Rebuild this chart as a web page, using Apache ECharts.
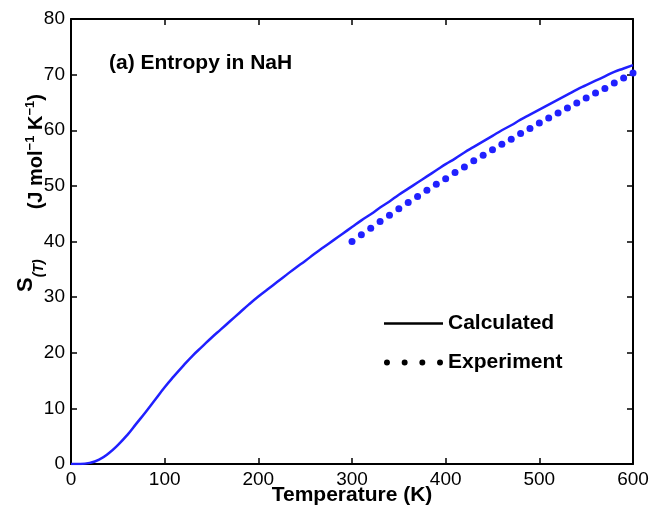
<!DOCTYPE html>
<html>
<head>
<meta charset="utf-8">
<script src="https://cdn.jsdelivr.net/npm/echarts@6/dist/echarts.min.js"></script>
<style>
  html, body { margin: 0; padding: 0; background: #fff; }
  #chart { width: 652px; height: 508px; }
</style>
</head>
<body>
<div id="chart"></div>
<script>
// calculated entropy (K, J/mol/K)
const tempCalc = [0, 10, 20, 30, 40, 50, 60, 70, 80, 90, 100, 110, 120, 130, 140, 150, 160, 170, 180, 190,
  200, 210, 220, 230, 240, 250, 260, 270, 280, 290, 300, 310, 320, 330, 340, 350, 360, 370, 380, 390,
  400, 410, 420, 430, 440, 450, 460, 470, 480, 490, 500, 510, 520, 530, 540, 550, 560, 570, 580, 590, 600];
const entropyCalc = [0.0, 0.0, 0.2, 0.8, 1.9, 3.4, 5.2, 7.3, 9.4, 11.6, 13.8, 15.8, 17.7, 19.5, 21.1, 22.7, 24.2, 25.7, 27.2, 28.7,
  30.1, 31.4, 32.7, 34.0, 35.3, 36.5, 37.8, 39.0, 40.2, 41.4, 42.6, 43.8, 44.9, 46.1, 47.2, 48.4, 49.5, 50.6, 51.7, 52.8,
  53.9, 54.9, 56.0, 57.0, 58.0, 59.0, 60.0, 60.9, 61.9, 62.8, 63.7, 64.6, 65.5, 66.4, 67.3, 68.1, 68.9, 69.7, 70.5, 71.1, 71.7];

// experiment
const tempExp = [300, 310, 320, 330, 340, 350, 360, 370, 380, 390, 400, 410, 420, 430, 440, 450,
  460, 470, 480, 490, 500, 510, 520, 530, 540, 550, 560, 570, 580, 590, 600];
const entropyExp = [40.0, 41.2, 42.4, 43.6, 44.7, 45.9, 47.0, 48.1, 49.2, 50.3, 51.3, 52.4, 53.4, 54.5, 55.5, 56.5,
  57.5, 58.4, 59.4, 60.3, 61.3, 62.2, 63.1, 64.0, 64.9, 65.8, 66.7, 67.5, 68.5, 69.4, 70.3];

const xTicks = [0, 100, 200, 300, 400, 500, 600];
const yTicks = [0, 10, 20, 30, 40, 50, 60, 70, 80];

const FONT = "'Liberation Sans', Arial, Helvetica, sans-serif";
const BLUE = "#2020ff";

const chart = echarts.init(document.getElementById("chart"));

const axisBase = {
  axisLine: { show: true, onZero: false, lineStyle: { color: "#000", width: 2 } },
  axisTick: { show: true, inside: true, length: 6, lineStyle: { color: "#000", width: 1.5 } },
  splitLine: { show: false },
};

const dot = (x) => "M" + x + ",3.2a3.2,3.2 0 1,0 6.4,0a3.2,3.2 0 1,0 -6.4,0";

const option = {
  animation: false,
  backgroundColor: "#fff",
  title: {
    text: "(a) Entropy in NaH",
    left: 104,
    top: 48,
    textStyle: { fontFamily: FONT, fontSize: 21, fontWeight: "bold", color: "#000" },
  },
  legend: {
    orient: "vertical",
    left: 379,
    top: 308,
    itemWidth: 59,
    itemHeight: 7,
    itemGap: 18,
    itemStyle: { color: "#000" },
    textStyle: { fontFamily: FONT, fontSize: 21, fontWeight: "bold", color: "#000" },
    data: [
      { name: "Calculated", icon: "path://M0,0H60V2.4H0Z", itemStyle: { color: "#000" } },
      {
        name: "Experiment",
        icon: "path://" + dot(0) + dot(19) + dot(38) + dot(57),
        itemStyle: { color: "#000" },
      },
    ],
  },
  grid: { left: 71, right: 19, top: 19, bottom: 44, containLabel: false, outerBoundsMode: "none" },
  xAxis: [
    {
      ...axisBase,
      type: "value",
      min: xTicks[0],
      max: xTicks[xTicks.length - 1],
      interval: 100,
      name: "Temperature (K)",
      nameLocation: "middle",
      nameGap: 21,
      nameMoveOverlap: false,
      nameTextStyle: { fontFamily: FONT, fontSize: 21, fontWeight: "bold", color: "#000" },
      axisLabel: { color: "#000", fontFamily: FONT, fontSize: 19, margin: 6 },
    },
    {
      ...axisBase,
      type: "value",
      position: "top",
      min: xTicks[0],
      max: xTicks[xTicks.length - 1],
      interval: 100,
      axisLabel: { show: false },
    },
  ],
  yAxis: [
    {
      ...axisBase,
      type: "value",
      min: yTicks[0],
      max: yTicks[yTicks.length - 1],
      interval: 10,
      name: "{s|S}{sub|(T)}{gap|}{t|(J mol}{sup|\u22121}{t| K}{sup|\u22121}{t|)}",
      nameLocation: "middle",
      nameGap: 25,
      nameMoveOverlap: false,
      nameTextStyle: {
        fontFamily: FONT,
        fontWeight: "bold",
        color: "#000",
        padding: [0, 0, 0, 97],
        rich: {
          s: { fontFamily: FONT, fontSize: 22, fontWeight: "bold", color: "#000", lineHeight: 40, verticalAlign: "top", padding: [9, 0, 0, 0] },
          sub: { fontFamily: FONT, fontSize: 14, fontWeight: "bold", fontStyle: "italic", color: "#000", lineHeight: 12, verticalAlign: "bottom" },
          gap: { width: 50 },
          t: { fontFamily: FONT, fontSize: 20, fontWeight: "bold", color: "#000", lineHeight: 18, verticalAlign: "bottom" },
          sup: { fontFamily: FONT, fontSize: 13, fontWeight: "bold", color: "#000", lineHeight: 14, verticalAlign: "bottom", padding: [0, 0, 9, 0] },
        },
      },
      axisLabel: { color: "#000", fontFamily: FONT, fontSize: 19, margin: 6 },
    },
    {
      ...axisBase,
      type: "value",
      position: "right",
      min: yTicks[0],
      max: yTicks[yTicks.length - 1],
      interval: 10,
      axisLabel: { show: false },
    },
  ],
  series: [
    {
      name: "Calculated",
      type: "line",
      data: tempCalc.map((t, i) => [t, entropyCalc[i]]),
      showSymbol: false,
      smooth: true,
      lineStyle: { color: BLUE, width: 2.5 },
      itemStyle: { color: BLUE },
    },
    {
      name: "Experiment",
      type: "scatter",
      data: tempExp.map((t, i) => [t, entropyExp[i]]),
      symbol: "circle",
      symbolSize: 7,
      itemStyle: { color: BLUE, opacity: 1 },
    },
  ],
};

chart.setOption(option);
</script>
</body>
</html>
